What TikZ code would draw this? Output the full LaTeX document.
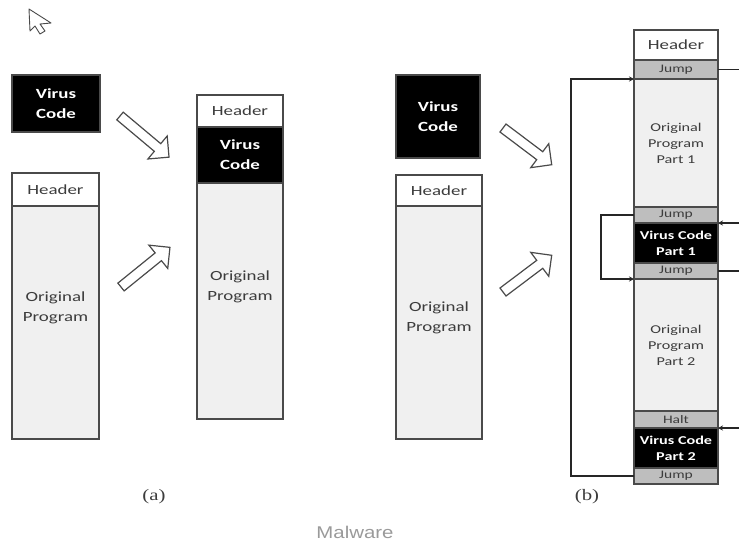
\documentclass[tikz,border=0pt]{standalone}
\usepackage{fontspec}
\newfontfamily\boxfont{Carlito}[FakeStretch=1.35]
\newfontfamily\capfont{Liberation Serif}[FakeStretch=1.3]
\newfontfamily\titlefont{Liberation Sans}[FakeStretch=1.2]
\usetikzlibrary{calc,arrows.meta}

\definecolor{edgegray}{HTML}{4A4A4A}
\definecolor{bodygray}{HTML}{F0F0F0}
\definecolor{jumpgray}{HTML}{BEBEBE}
\definecolor{textgray}{HTML}{3C3C3C}
\definecolor{captiongray}{HTML}{9A9A9A}

% hollow block arrow: tail x, tail y, angle, length
\newcommand\hollowarr[4]{%
  \begin{scope}[shift={(#1,#2)}, rotate=#3]
    \draw[blockarrow] (0,-5) -- (#4-15,-5) -- (#4-15,-15) -- (#4,0)
      -- (#4-15,15) -- (#4-15,5) -- (0,5) -- cycle;
  \end{scope}}

\begin{document}
\begin{tikzpicture}[x=1pt,y=-1pt,
  seg/.style 2 args={draw=edgegray, line width=1.4pt, rectangle,
    anchor=north west, inner sep=0pt, outer sep=0pt, align=center,
    minimum width=#1pt, minimum height=#2pt, text=textgray,
    font=\boxfont\fontsize{14}{20}\selectfont},
  virus/.style={fill=black, text=white,
    font=\boxfont\fontsize{14}{20}\selectfont\bfseries},
  header/.style={fill=white},
  body/.style={fill=bodygray},
  small/.style={font=\boxfont\fontsize{12}{16}\selectfont},
  smallvirus/.style={fill=black, text=white,
    font=\boxfont\fontsize{12}{16}\selectfont\bfseries},
  jump/.style={fill=jumpgray, font=\boxfont\fontsize{11.5}{14}\selectfont},
  txt/.style={align=center, inner sep=0pt, text=textgray,
    font=\boxfont\fontsize{14}{20}\selectfont},
  link/.style={draw=black!85, line width=1.2pt,
    -{Stealth[length=5pt,width=5pt]}},
  wire/.style={draw=black!85, line width=1.2pt},
  blockarrow/.style={draw=edgegray, line width=1.2pt, fill=white,
    line join=miter},
  caption/.style={text=textgray, font=\capfont\fontsize{16}{18}\selectfont}
]
\useasboundingbox (0,0) rectangle (739,542);

% pointer glyph in the corner
\draw[draw=edgegray, line width=0.9pt, fill=white, line join=round]
  (29,9) -- (30,31) -- (35,26) -- (40,34) -- (45,31) -- (40,24) -- (51,23) -- cycle;

% ---------- (a) ----------
\node[seg={88}{57}, virus] (va) at (12,75) {Virus\\Code};
\node[seg={87}{33}, header] (ha) at (12,173) {Header};
\node[seg={87}{233}, body] (oa) at (12,206) {};
\node[txt] (oat) at ($(oa.center)+(0,-15)$) {Original\\Program};

\hollowarr{120}{116}{-40}{64}
\hollowarr{121}{287}{39}{63}

\node[seg={86}{32}, header] (hm) at (197,95) {Header};
\node[seg={86}{56}, virus] (vm) at (197,127) {Virus\\Code};
\node[seg={86}{236}, body] (om) at (197,183) {};
\node[txt] (omt) at ($(om.center)+(0,-14)$) {Original\\Program};

\node[caption] (capa) at (154,497) {(a)};

% ---------- (b) ----------
\node[seg={84}{83}, virus] (vb) at (396,75) {Virus\\Code};
\node[seg={86}{31}, header] (hb) at (396,175) {Header};
\node[seg={86}{233}, body] (ob) at (396,206) {};
\node[txt] (obt) at ($(ob.center)+(0,-5)$) {Original\\Program};

\hollowarr{503}{128}{-37}{61}
\hollowarr{503}{292}{37}{61}

\node[seg={84}{30}, header] (hc) at (634,30) {Header};
\node[seg={84}{19}, jump] (j1) at (634,60) {Jump};
\node[seg={84}{128}, body, small] (p1) at (634,79) {Original\\Program\\Part 1};
\node[seg={84}{16}, jump] (ja) at (634,207) {Jump};
\node[seg={84}{40}, smallvirus] (v1) at (634,223) {Virus Code\\Part 1};
\node[seg={84}{16}, jump] (jb) at (634,263) {Jump};
\node[seg={84}{132}, body, small] (p2) at (634,279) {Original\\Program\\Part 2};
\node[seg={84}{17}, jump] (hl) at (634,411) {Halt};
\node[seg={84}{40}, smallvirus] (v2) at (634,428) {Virus Code\\Part 2};
\node[seg={84}{16}, jump] (jc) at (634,468) {Jump};

% control-flow connectors
\draw[link] (jc.west) -- ++(-63,0) |- (p1.north west);
\draw[link] (ja.west) -- ++(-33,0) |- (p2.north west);
\draw[wire] (j1.east) -- ++(21,0);
\draw[link] ($(v1.north east)+(21,0)$) -- (v1.north east);
\draw[wire] (jb.east) -- ++(21,0);
\draw[link] ($(hl.south east)+(21,0)$) -- (hl.south east);

\node[caption] (capb) at (587,497) {(b)};

\node[text=captiongray, font=\titlefont\fontsize{17}{20}\selectfont] (title) at (355,532) {Malware};
\end{tikzpicture}
\end{document}
